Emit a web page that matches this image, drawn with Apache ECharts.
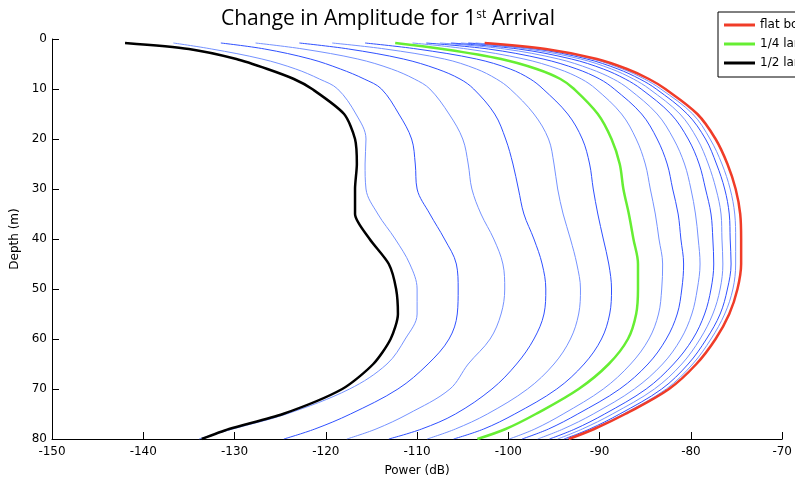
<!DOCTYPE html>
<html>
<head>
<meta charset="utf-8">
<script src="https://cdn.jsdelivr.net/npm/echarts@6/dist/echarts.min.js"></script>
<style>html,body{margin:0;padding:0;background:#fff;}#chart{width:795px;height:484px;}</style>
</head>
<body>
<div id="chart"></div>
<script>
const depths = [0.8, 2, 4, 6, 8, 10, 15, 20, 25, 30, 35, 40, 45, 50, 55, 60, 65, 70, 75, 78, 80];
const xTicks = [-150, -140, -130, -120, -110, -100, -90, -80, -70];
const legendNames = ['flat bottom', '1/4 lambda', '1/2 lambda'];

const blackPower = [-142.0, -135.0, -129.8, -126.4, -123.5, -121.5, -118.0, -116.8, -116.6, -116.8, -116.8, -115.2, -113.1, -112.3, -112.1, -112.9, -114.8, -118.2, -124.7, -130.6, -133.6];
const greenPower = [-112.4, -107.2, -100.8, -96.9, -94.3, -92.8, -90.2, -88.7, -87.8, -87.4, -86.8, -86.3, -85.8, -85.8, -86.0, -86.9, -89.0, -92.3, -97.0, -100.3, -103.4];
const redPower = [-102.6, -95.9, -90.3, -87.0, -84.6, -82.8, -79.3, -77.3, -76.0, -75.1, -74.6, -74.5, -74.5, -74.9, -75.8, -77.3, -79.4, -82.4, -87.2, -90.6, -93.4];

const blue1 = [-136.7, -132.5, -127.0, -123.3, -120.7, -118.7, -116.7, -115.6, -115.7, -115.6, -114.3, -112.4, -110.8, -110.0, -110.0, -111.3, -113.3, -117.4, -124.3, -130.2, -133.9];
const blue2 = [-131.5, -126.7, -121.7, -118.4, -115.8, -113.9, -112.0, -110.6, -110.2, -110.0, -108.6, -107.0, -105.7, -105.5, -105.6, -106.5, -108.8, -112.1, -117.3, -121.2, -124.6];
const blue3 = [-127.7, -122.5, -116.5, -112.8, -110.3, -108.6, -106.5, -105.0, -104.4, -104.0, -103.0, -101.6, -100.6, -100.4, -100.8, -102.0, -104.4, -106.4, -111.0, -114.5, -117.7];
const blue4 = [-122.9, -117.5, -111.5, -107.8, -105.3, -103.8, -101.5, -100.3, -99.5, -98.9, -98.3, -97.2, -96.3, -95.9, -96.1, -97.2, -99.1, -101.8, -105.8, -109.5, -113.1];
const blue5 = [-119.3, -113.5, -107.0, -103.5, -101.3, -99.8, -97.2, -95.6, -95.0, -94.6, -94.0, -93.2, -92.5, -92.1, -92.3, -93.2, -95.0, -97.9, -102.3, -105.8, -108.9];
const blue6 = [-115.7, -110.0, -103.5, -99.8, -97.6, -96.2, -93.5, -91.9, -91.1, -90.7, -90.2, -89.6, -89.0, -88.7, -88.9, -89.8, -91.7, -94.7, -99.3, -102.7, -106.0];
const blue7 = [-110.5, -104.5, -98.3, -94.5, -92.0, -90.4, -87.6, -86.0, -85.0, -84.45, -83.9, -83.5, -83.1, -83.2, -83.55, -84.6, -86.6, -89.6, -94.0, -97.1, -99.9];
const blue8 = [-109.0, -102.2, -96.2, -92.5, -90.0, -88.4, -85.4, -83.7, -82.6, -82.0, -81.4, -81.1, -80.8, -81.0, -81.5, -82.7, -84.7, -87.8, -92.4, -95.6, -98.5];
const blue9 = [-107.5, -100.4, -94.5, -91.0, -88.5, -86.8, -83.7, -81.9, -80.7, -80.0, -79.5, -79.2, -79.0, -79.3, -79.9, -81.1, -83.1, -86.2, -90.7, -94.0, -96.8];
const blue10 = [-106.3, -98.9, -93.1, -89.6, -87.2, -85.45, -82.2, -80.3, -79.1, -78.4, -77.8, -77.6, -77.5, -77.8, -78.5, -79.8, -81.9, -84.9, -89.45, -92.7, -95.5];
const blue11 = [-105.2, -97.9, -92.1, -88.7, -86.3, -84.55, -81.2, -79.3, -78.1, -77.25, -76.7, -76.6, -76.5, -76.8, -77.6, -79.0, -81.0, -84.0, -88.6, -91.9, -94.6];
const blue12 = [-104.4, -97.0, -91.4, -88.0, -85.6, -83.8, -80.4, -78.4, -77.2, -76.3, -75.8, -75.7, -75.6, -76.0, -76.8, -78.3, -80.3, -83.2, -87.8, -91.1, -93.9];
const blue13 = [-103.6, -96.5, -90.8, -87.5, -85.1, -83.3, -79.8, -77.9, -76.6, -75.7, -75.2, -75.1, -75.1, -75.4, -76.3, -77.8, -79.8, -82.7, -87.4, -90.8, -93.6];

const blues = [blue1, blue2, blue3, blue4, blue5, blue6, blue7, blue8, blue9, blue10, blue11, blue12, blue13];
const blueColors = ['#7592ff', '#2f50ff'];

function pts(arr) { return arr.map((v, i) => [v, depths[i]]); }

const series = [];
blues.forEach((arr, k) => {
  series.push({
    name: 'b' + (k + 1), type: 'line', data: pts(arr), showSymbol: false, smooth: 0.35,
    lineStyle: { color: blueColors[k % 2], width: 1 }, itemStyle: { color: blueColors[k % 2] }, z: 2
  });
});
series.push({ name: legendNames[0], type: 'line', data: pts(redPower), showSymbol: false, smooth: 0.35,
  lineStyle: { color: '#f03c28', width: 2.5 }, itemStyle: { color: '#f03c28' }, z: 3 });
series.push({ name: legendNames[1], type: 'line', data: pts(greenPower), showSymbol: false, smooth: 0.35,
  lineStyle: { color: '#66ee33', width: 2.5 }, itemStyle: { color: '#66ee33' }, z: 3 });
series.push({ name: legendNames[2], type: 'line', data: pts(blackPower), showSymbol: false, smooth: 0.25,
  lineStyle: { color: '#000000', width: 2.5 }, itemStyle: { color: '#000000' }, z: 4 });

const chart = echarts.init(document.getElementById('chart'), null, { renderer: 'canvas' });
chart.setOption({
  animation: false,
  backgroundColor: '#fff',
  title: {
    text: 'Change in Amplitude for 1{s|st} Arrival',
    left: 216, top: 4,
    textStyle: { fontFamily: 'Open Sans', fontSize: 21, fontWeight: 'normal', color: '#000',
      rich: { s: { fontFamily: 'Open Sans', fontSize: 12, verticalAlign: 'top', color: '#000' } } }
  },
  legend: {
    data: legendNames, orient: 'vertical', left: 718, top: 12,
    padding: [7, 6, 8, 6], itemWidth: 31, itemHeight: 3, itemGap: 7, icon: 'rect',
    borderColor: '#000', borderWidth: 1, backgroundColor: '#fff',
    textStyle: { fontFamily: 'DejaVu Sans', fontSize: 12, color: '#000' }
  },
  grid: { left: 52, top: 39, width: 733, height: 400, containLabel: false },
  xAxis: {
    type: 'value', min: xTicks[0], max: xTicks[xTicks.length - 1], interval: 10,
    name: 'Power (dB)', nameLocation: 'middle', nameGap: 26,
    nameTextStyle: { fontFamily: 'DejaVu Sans', fontSize: 12, color: '#000' },
    axisLine: { show: true, onZero: false, lineStyle: { color: '#000', width: 1 } },
    axisTick: { show: true, inside: true, length: 7, lineStyle: { color: '#000' } },
    axisLabel: { color: '#000', fontFamily: 'DejaVu Sans', fontSize: 12, margin: 7, showMinLabel: true, showMaxLabel: true },
    splitLine: { show: false }
  },
  yAxis: {
    type: 'value', inverse: true, min: 0, max: 80, interval: 10,
    name: 'Depth (m)', nameLocation: 'middle', nameGap: 28, nameRotate: 90,
    nameTextStyle: { fontFamily: 'DejaVu Sans', fontSize: 12, color: '#000' },
    axisLine: { show: true, onZero: false, lineStyle: { color: '#000', width: 1 } },
    axisTick: { show: true, inside: true, length: 7, lineStyle: { color: '#000' } },
    axisLabel: { color: '#000', fontFamily: 'DejaVu Sans', fontSize: 12, margin: 5 },
    splitLine: { show: false }
  },
  series: series
});
</script>
</body>
</html>
